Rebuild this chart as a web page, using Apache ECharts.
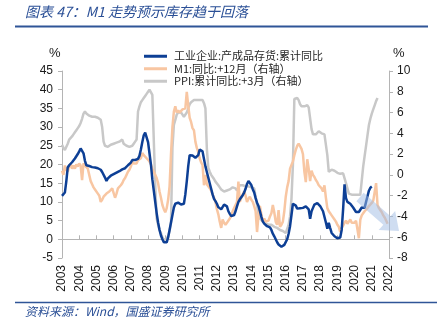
<!DOCTYPE html>
<html><head><meta charset="utf-8">
<script src="https://cdn.jsdelivr.net/npm/echarts@6/dist/echarts.min.js"></script>
<style>html,body{margin:0;padding:0;background:#fff}#c{width:445px;height:331px}</style>
</head><body><div id="c"></div>
<script>
// Monthly data, first value = Jan 2003
const startYear = 2003;

// 工业企业:产成品存货:累计同比 (left axis, %)
const inventory = [
  11.6, 11.8, 12.5, 15.5, 19.2, 19.8, 20.2, 20.6, 21.0, 21.6, 22.2, 22.8,
  23.5, 24.3, 24.6, 23.0, 21.0, 19.8, 19.5, 19.6, 19.4, 19.3, 19.2, 19.2,
  19.2, 19.0, 19.3, 18.6, 18.0, 17.6, 16.5, 15.6, 16.3, 16.8, 17.0, 17.2,
  17.4, 17.5, 17.8, 18.0, 18.2, 18.5, 18.7, 18.6, 19.0, 19.5, 19.8, 20.1,
  20.5, 21.2, 21.7, 21.2, 21.0, 21.5, 22.3, 24.0, 26.0, 27.8, 28.5, 28.0,
  26.0, 23.0, 20.0, 16.0, 13.0, 10.0, 7.0, 4.5, 2.5, 1.0, 0.0, -0.8,
  -1.0, -0.8, 0.5, 2.5, 4.5, 6.5, 8.5, 9.5, 9.8, 9.8, 9.5, 9.3,
  9.3, 9.5, 12.0, 15.5, 19.5, 22.5, 22.8, 22.4, 22.3, 21.8, 21.4, 22.5,
  24.0, 24.1, 23.5, 21.5, 19.5, 18.0, 16.5, 15.0, 13.5, 12.0, 10.8, 10.2,
  9.5, 8.6, 8.2, 8.0, 8.5, 9.3, 9.8, 8.8, 7.5, 6.8, 6.2, 6.0,
  6.5, 7.5, 8.8, 10.0, 10.7, 11.2, 11.8, 12.5, 13.5, 14.8, 15.6, 15.2,
  14.5, 13.4, 12.5, 11.0, 9.8, 8.9, 7.5, 6.0, 4.8, 4.2, 3.8, 3.5,
  3.5, 3.2, 2.5, 1.5, 0.8, 0.0, -0.8, -1.4, -1.9, -2.0, -1.9, -1.5,
  -1.0, 0.0, 1.5, 3.5, 6.5, 9.5, 9.8, 9.0, 8.2, 8.0, 8.3, 8.4,
  8.4, 8.6, 8.8, 8.9, 8.0, 5.5, 7.5, 8.4, 9.3, 9.8, 9.7, 9.3,
  8.9, 8.5, 7.5, 7.1, 4.5, 2.8, 4.4, 3.0, 1.7, 1.5, 0.8, 0.5,
  0.3, -0.1, 0.5, 2.5, 8.0, 14.7, 11.0, 10.0, 9.8, 9.5, 9.0, 8.5,
  8.0, 7.3, 7.1, 7.3, 7.5, 8.5, 8.9, 8.4, 10.0, 11.5, 13.0, 13.8,
  14.1
];

// M1:同比:+12月 (right axis, %)
const m1Lead = [
  0.4, 0.0, 0.9, 0.5, 0.3, 0.8, 1.1, 0.6, 0.9, 0.6, 1.0, 0.8,
  1.1, 0.9, -0.5, 1.1, 0.9, 0.8, 0.6, 0.7, -0.6, -0.9, -1.2, -1.4,
  -1.5, -1.8, -2.0, -2.6, -2.4, -2.1, -2.0, -1.8, -1.9, -1.6, -1.5, -1.3,
  -1.4, -2.2, -1.8, -1.3, -1.2, -1.0, -0.8, -0.5, -0.3, 0.0, 0.3, 0.5,
  0.8, 1.3, 1.1, 1.0, 1.1, 1.4, 1.3, 1.6, 2.1, 1.9, 1.75, 1.6,
  1.5, 1.3, 1.0, 0.6, 0.3, 0.0, -0.3, -0.8, -1.6, -2.2, -2.9, -3.3,
  -3.6, -3.2, -2.4, -1.1, 2.0, 4.6, 6.1, 6.6, 6.0, 6.2, 6.0, 6.1,
  6.3, 6.2, 6.4, 8.0, 6.7, 5.5, 5.1, 4.5, 4.3, 3.2, 2.6, 2.2,
  1.6, 1.2, 0.95, -1.0, 0.0, -0.9, -1.1, -1.3, -1.5, -1.9, -2.2, -2.6,
  -3.3, -3.8, -4.5, -5.1, -4.3, -4.6, -4.8, -4.6, -4.5, -4.2, -3.9, -3.5,
  -3.2, -2.9, -2.6, -0.65, -2.6, -2.2, -1.9, -1.6, -2.0, -2.6, -2.3, -2.1,
  -2.4, -2.6, -3.0, -3.5, -5.5, -3.9, -3.0, -3.8, -4.5, -4.2, -4.5, -4.5,
  -4.4, -4.0, -3.7, -2.9, -3.6, -4.5, -4.8, -3.4, -5.0, -4.8, -4.5, -3.5,
  -2.1, -1.2, -0.6, 0.6, 0.95, 1.3, 1.9, 2.4, 2.8, 3.0, 2.9, 2.5,
  2.0, 0.3, -0.7, 1.5, 0.6, -0.6, 0.4, 0.0, -0.2, -0.5, -0.7, -1.0,
  -1.1, -1.3, -1.6, -1.0, -2.2, -3.2, -3.5, -3.7, -3.9, -4.0, -4.3, -4.5,
  -4.8, -5.0, -5.5, -5.1, -4.9, -4.6, -4.4, -4.7, -4.5, -4.3, -4.6, -4.5,
  -4.6, -4.4, -4.5, -6.1, -4.3, -3.9, -3.7, -3.5, -3.4, -3.2, -3.0, -2.9,
  -2.7, -2.5, -2.4, -0.8, -2.9, -3.2, -3.4, -3.6, -3.9, -4.1, -4.4, -4.7
];

// PPI:累计同比:+3月 (right axis, %)
const ppiLead = [
  2.9, 2.6, 2.4, 2.4, 3.0, 3.4, 3.5, 3.7, 3.9, 4.1, 4.3, 4.5,
  4.7, 5.0, 5.4, 5.9, 6.1, 5.9, 5.8, 5.7, 5.7, 5.6, 5.6, 5.6,
  5.6, 5.5, 5.4, 5.3, 4.6, 3.2, 2.8, 2.7, 2.7, 2.8, 2.9, 3.0,
  3.0, 3.0, 3.1, 3.1, 3.2, 3.2, 3.4, 3.0, 2.9, 2.8, 2.7, 2.7,
  2.7, 2.8, 3.0, 3.2, 3.4, 6.1, 6.6, 7.0, 7.2, 7.4, 7.6, 7.8,
  8.0, 8.2, 8.3, 7.7, 7.8, -1.0, -4.2, -4.8, -5.3, -5.6, -6.0, -6.3,
  -6.3, -6.1, -5.9, -5.4, -4.6, 2.6, 4.8, 5.3, 5.8, 6.0, 6.1, 6.0,
  5.8, 5.6, 5.7, 6.0, 6.4, 6.8, 7.0, 7.1, 7.2, 7.2, 7.2, 7.2,
  7.2, 7.2, 7.2, 6.9, 6.4, 2.5, 0.7, 0.3, 0.0, -0.2, -0.4, -0.65,
  -0.8, -1.0, -1.2, -1.4, -1.5, -1.6, -1.6, -1.5, -1.4, -1.4, -1.3, -1.2,
  -1.1, -1.3, -1.5, -1.2, -1.0, -1.0, -1.0, -1.1, -1.1, -1.1, -1.1, -1.1,
  -1.2, -1.3, -1.3, -1.4, -2.9, -3.8, -4.2, -4.3, -4.5, -4.6, -4.7, -4.7,
  -4.8, -4.8, -4.8, -4.9, -5.0, -5.1, -5.1, -5.2, -5.3, -5.3, -5.4, -5.5,
  -5.6, -5.5, -4.8, -4.0, -2.3, 0.95, 7.3, 7.4, 7.4, 7.2, 6.8, 6.6,
  6.6, 6.6, 6.7, 6.7, 6.5, 6.4, 4.4, 3.9, 3.8, 3.9, 4.0, 4.2,
  4.2, 4.0, 4.0, 3.9, 3.8, 1.9, 0.3, 0.4, 0.5, 0.5, 0.4, 0.3,
  0.2, 0.1, 0.1, 0.0, 0.15, 0.1, -0.8, -1.3, -1.8, -1.9, -1.9, -1.9,
  -1.9, -1.9, -1.9, -1.9, -1.9, -1.9, 0.8, 1.8, 2.8, 3.8, 4.8, 5.4,
  5.9, 6.3, 6.7, 7.1, 7.4
];

const seriesNames = ['工业企业:产成品存货:累计同比', 'M1:同比:+12月（右轴）', 'PPI:累计同比:+3月（右轴）'];
const xRange = [2003, 2022];
const leftRange = [-5, 45];
const rightRange = [-8, 10];

function toPairs(arr) { return arr.map((v, i) => [startYear + i / 12, v]); }

const axisGray = '#b4b4b4';
const labelFont = { fontSize: 12, color: '#1a1a1a', fontFamily: 'Liberation Sans' };

// Decorative down-right arrow
function arrowPoints() {
  const sx = 360, sy = 197, tx = 399, ty = 231;
  const L = Math.hypot(tx - sx, ty - sy);
  const dx = (tx - sx) / L, dy = (ty - sy) / L;
  const nx = -dy, ny = dx;
  const hw = 5.5, hh = 12.5, hl = 16;
  const ex = sx + dx * (L - hl), ey = sy + dy * (L - hl);
  return [
    [sx - nx * hw, sy - ny * hw],
    [ex - nx * hw, ey - ny * hw],
    [ex - nx * hh, ey - ny * hh],
    [tx, ty],
    [ex + nx * hh, ey + ny * hh],
    [ex + nx * hw, ey + ny * hw],
    [sx + nx * hw, sy + ny * hw]
  ];
}

const chart = echarts.init(document.getElementById('c'));
chart.setOption({
  backgroundColor: '#fff',
  animation: false,
  grid: { left: 62, right: 56, top: 71, bottom: 73 },
  legend: {
    data: seriesNames,
    orient: 'vertical',
    left: 139, top: 45,
    icon: 'rect', itemWidth: 23, itemHeight: 3, itemGap: 0,
    textStyle: { fontSize: 11, color: '#262626', fontFamily: 'Noto Sans CJK SC', lineHeight: 12.5, padding: [0, 0, 0, 2] }
  },
  xAxis: [
    {
      type: 'value', min: xRange[0], max: xRange[1], interval: 1,
      position: 'bottom',
      axisLine: { show: true, onZero: true, onZeroAxisIndex: 0, lineStyle: { color: axisGray } },
      axisTick: { show: true, inside: true, length: 4, lineStyle: { color: axisGray } },
      axisLabel: { show: false },
      splitLine: { show: false }
    },
    {
      type: 'value', min: xRange[0], max: xRange[1], interval: 1,
      position: 'bottom',
      axisLine: { show: false, onZero: false },
      axisTick: { show: false },
      axisLabel: Object.assign({ rotate: 90, margin: 7, formatter: v => String(v) }, labelFont),
      splitLine: { show: false }
    }
  ],
  yAxis: [
    {
      type: 'value', position: 'left', min: leftRange[0], max: leftRange[1], interval: 5,
      axisLine: { show: true, onZero: false, lineStyle: { color: axisGray } },
      axisTick: { show: true, length: 4, lineStyle: { color: axisGray } },
      axisLabel: Object.assign({ margin: 9 }, labelFont),
      splitLine: { show: false }
    },
    {
      type: 'value', position: 'right', min: rightRange[0], max: rightRange[1], interval: 2,
      axisLine: { show: true, onZero: false, lineStyle: { color: axisGray } },
      axisTick: { show: true, length: 4, lineStyle: { color: axisGray } },
      axisLabel: Object.assign({ margin: 8 }, labelFont),
      splitLine: { show: false }
    }
  ],
  graphic: [
    { type: 'text', left: 25, top: 5, style: { text: '图表 47：M1 走势预示库存趋于回落', font: 'italic 14px "Noto Sans CJK SC"', fill: '#2a4f96' } },
    { type: 'line', shape: { x1: 15, y1: 26.5, x2: 428, y2: 26.5 }, style: { stroke: '#2f5597', lineWidth: 2 } },
    { type: 'line', shape: { x1: 15, y1: 302.5, x2: 437, y2: 302.5 }, style: { stroke: '#2f5597', lineWidth: 1.5 } },
    { type: 'text', left: 25, top: 305, style: { text: '资料来源：Wind，国盛证券研究所', font: 'italic 12px "Noto Sans CJK SC"', fill: '#2a4f96' } },
    { type: 'text', left: 49, top: 47, style: { text: '%', font: '13px "Liberation Sans"', fill: '#1a1a1a' } },
    { type: 'text', left: 393, top: 47, style: { text: '%', font: '13px "Liberation Sans"', fill: '#1a1a1a' } },
    { type: 'polygon', shape: { points: arrowPoints() }, style: { fill: 'rgba(160,188,228,0.5)' }, z: 100 }
  ],
  series: [
    {
      name: seriesNames[2], type: 'line', xAxisIndex: 0, yAxisIndex: 1,
      data: toPairs(ppiLead), showSymbol: false, symbol: 'none',
      lineStyle: { color: '#c8c8c8', width: 2.5 }, itemStyle: { color: '#c8c8c8' }, z: 2
    },
    {
      name: seriesNames[1], type: 'line', xAxisIndex: 0, yAxisIndex: 1,
      data: toPairs(m1Lead), showSymbol: false, symbol: 'none',
      lineStyle: { color: '#f8c6a2', width: 2.5 }, itemStyle: { color: '#f8c6a2' }, z: 3
    },
    {
      name: seriesNames[0], type: 'line', xAxisIndex: 0, yAxisIndex: 0,
      data: toPairs(inventory), showSymbol: false, symbol: 'none',
      lineStyle: { color: '#0d3f95', width: 2.5 }, itemStyle: { color: '#0d3f95' }, z: 4
    }
  ]
});
</script>
</body></html>
